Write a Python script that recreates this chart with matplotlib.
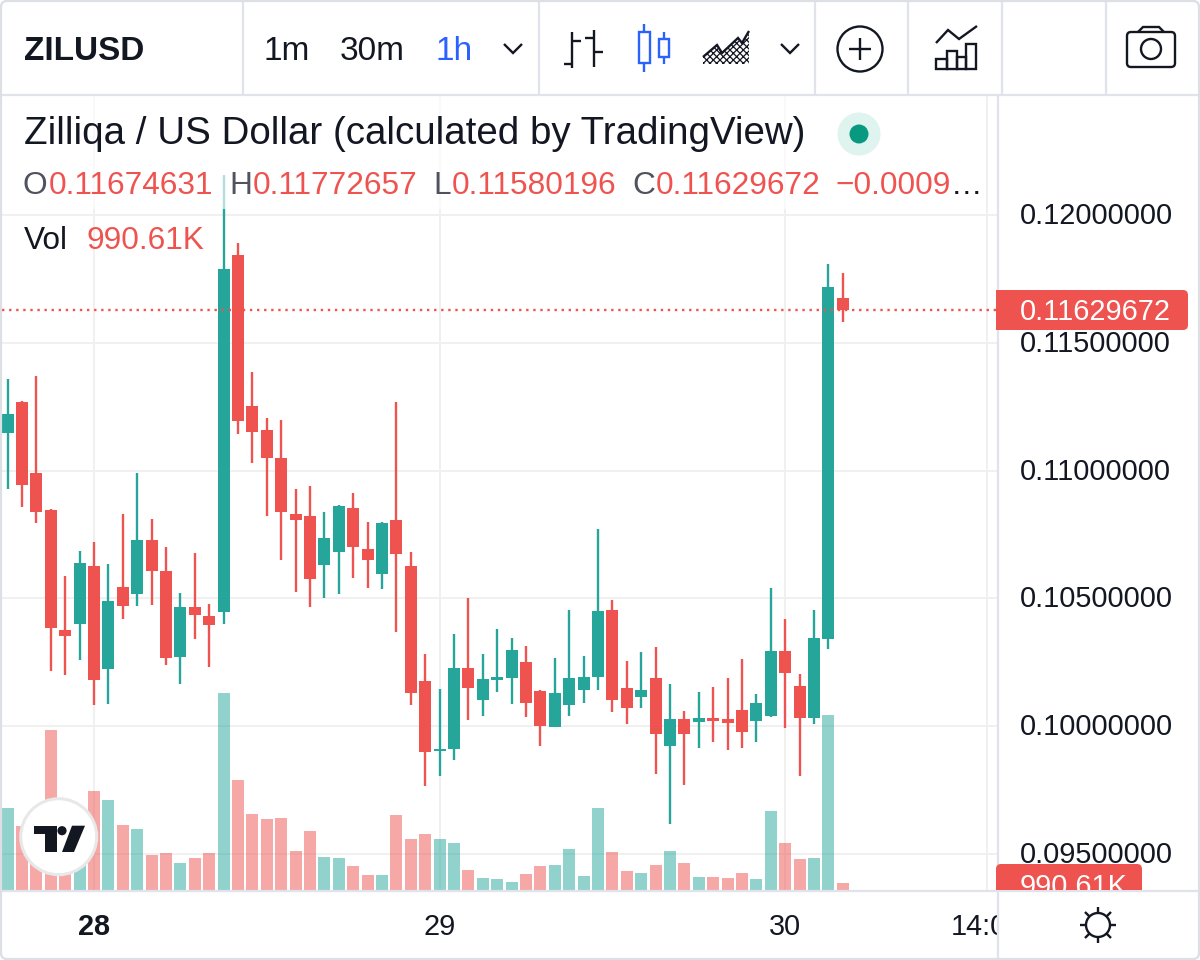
#Import packages
import matplotlib
matplotlib.use("Agg")
import matplotlib.pyplot as plt
from matplotlib.patches import Rectangle, Circle, Polygon, FancyBboxPatch
from matplotlib.transforms import Bbox, ScaledTranslation

plt.rcParams['font.family'] = ['Liberation Sans', 'DejaVu Sans']
plt.rcParams['hatch.linewidth'] = 0.9

#Hourly candles
opens = [0.11147, 0.11269, 0.10991, 0.10846, 0.10376, 0.10399, 0.10626, 0.10223, 0.10544, 0.10517,
         0.10728, 0.10607, 0.10270, 0.10466, 0.10431, 0.10446, 0.11844, 0.11253, 0.11159, 0.11049,
         0.10830, 0.10822, 0.10630, 0.10681, 0.10854, 0.10693, 0.10595, 0.10807, 0.10626, 0.10176,
         0.09902, 0.09910, 0.10227, 0.10102, 0.10180, 0.10188, 0.10251, 0.10137, 0.09996, 0.10082,
         0.10141, 0.10192, 0.10454, 0.10149, 0.10114, 0.10188, 0.09922, 0.10027, 0.10016, 0.10031,
         0.10027, 0.10063, 0.10020, 0.10039, 0.10294, 0.10157, 0.10031, 0.10341, 0.11674631]
highs = [0.11359, 0.11273, 0.11370, 0.10850, 0.10587, 0.10685, 0.10720, 0.10634, 0.10830, 0.10991,
         0.10811, 0.10701, 0.10521, 0.10677, 0.10478, 0.12157, 0.11891, 0.11386, 0.11206, 0.11198,
         0.10928, 0.10940, 0.10838, 0.10865, 0.10912, 0.10799, 0.10799, 0.11269, 0.10681, 0.10282,
         0.10145, 0.10360, 0.10501, 0.10282, 0.10380, 0.10345, 0.10313, 0.10141, 0.10266, 0.10454,
         0.10274, 0.10771, 0.10493, 0.10255, 0.10290, 0.10309, 0.10164, 0.10059, 0.10133, 0.10153,
         0.10188, 0.10262, 0.10125, 0.10540, 0.10419, 0.10204, 0.10454, 0.11809, 0.11772657]
lows = [0.10928, 0.10857, 0.10795, 0.10215, 0.10200, 0.10258, 0.10082, 0.10086, 0.10419, 0.10470,
        0.10474, 0.10239, 0.10164, 0.10341, 0.10231, 0.10399, 0.11143, 0.11030, 0.10822, 0.10650,
        0.10525, 0.10466, 0.10501, 0.10517, 0.10580, 0.10540, 0.10536, 0.10368, 0.10082, 0.09765,
        0.09804, 0.09867, 0.10024, 0.10039, 0.10133, 0.10086, 0.10035, 0.09922, 0.09996, 0.10039,
        0.10090, 0.10141, 0.10055, 0.10008, 0.10070, 0.09812, 0.09616, 0.09769, 0.09914, 0.09937,
        0.09906, 0.09914, 0.09937, 0.10035, 0.09992, 0.09804, 0.10008, 0.10302, 0.11580196]
closes = [0.11222, 0.10944, 0.10838, 0.10384, 0.10352, 0.10638, 0.10180, 0.10489, 0.10470, 0.10728,
          0.10607, 0.10266, 0.10466, 0.10435, 0.10395, 0.11789, 0.11194, 0.11151, 0.11049, 0.10838,
          0.10807, 0.10576, 0.10736, 0.10861, 0.10701, 0.10650, 0.10795, 0.10673, 0.10129, 0.09898,
          0.09910, 0.10227, 0.10149, 0.10184, 0.10192, 0.10298, 0.10090, 0.10000, 0.10129, 0.10188,
          0.10192, 0.10450, 0.10102, 0.10070, 0.10141, 0.09969, 0.10027, 0.09969, 0.10031, 0.10020,
          0.10012, 0.09977, 0.10090, 0.10294, 0.10208, 0.10031, 0.10345, 0.11719, 0.11629672]
#Volume in thousands
volumes = [12497, 9754, 7620, 24384, 6401, 7925, 15088, 13716, 9906, 9296,
           5334, 5639, 4115, 4877, 5639, 30023, 16764, 11582, 10820, 10973,
           5944, 8992, 5029, 4877, 3658, 2286, 2286, 11430, 7772, 8534,
           7772, 7163, 3048, 1829, 1676, 1219, 2438, 3658, 3810, 6248,
           2134, 12497, 5791, 2896, 2591, 3810, 5944, 4115, 1981, 1981,
           1829, 2591, 1676, 12040, 7163, 4724, 4877, 26670, 990.61]

price_ticks = [0.095, 0.10, 0.105, 0.11, 0.115, 0.12]
time_positions = [6, 30, 54, 68]
time_labels = ["28", "29", "30", "14:00"]

#Colors
green = "#26a69a"
red = "#ef5350"
dark = "#131722"
gray = "#50535e"
blue = "#2962ff"
border = "#e0e3eb"
grid_color = "#f0f0f0"

positions = list(range(len(opens)))
candle_colors = [green if c >= o else red for o, c in zip(opens, closes)]

fig = plt.figure(figsize=(12, 9.6), dpi=100)
fig.patch.set_facecolor("white")
chart_rect = [2/1200, 70/960, 995/1200, 794/960]
x_range = (-0.389, 68.71)
price_range = (0.0935786, 0.1246677)

#Grid goes underneath everything
grid_ax = fig.add_axes(chart_rect, zorder=0)
grid_ax.set_xlim(x_range)
grid_ax.set_ylim(price_range)
grid_ax.set_xticks(time_positions)
grid_ax.set_yticks(price_ticks)
grid_ax.set_xticklabels([])
grid_ax.set_yticklabels([])
grid_ax.tick_params(length=0)
grid_ax.grid(color=grid_color, linewidth=1.44)
for side in grid_ax.spines.values():
    side.set_visible(False)

#Volume has its own scale
vol_ax = fig.add_axes(chart_rect, zorder=1)
vol_ax.patch.set_alpha(0)
vol_ax.bar(positions, volumes, width=0.83, color=candle_colors, alpha=0.5, linewidth=0)
vol_ax.set_xlim(x_range)
vol_ax.set_ylim(0, 121006)
vol_ax.axis("off")

#Price axes
ax = fig.add_axes(chart_rect, zorder=2)
ax.patch.set_alpha(0)
ax.set_xlim(x_range)
ax.set_ylim(price_range)
ax.vlines(positions, lows, highs, color=candle_colors, linewidth=1.7, zorder=2)
bottoms = [min(o, c) for o, c in zip(opens, closes)]
heights = [abs(o - c) for o, c in zip(opens, closes)]
ax.bar(positions, heights, bottom=bottoms, width=0.83, color=candle_colors, linewidth=0, zorder=3)
ax.axhline(closes[-1], color=red, linewidth=1.7, linestyle=(0, (1, 2)), zorder=4)

ax.yaxis.tick_right()
ax.set_yticks(price_ticks)
ax.set_yticklabels([f"{t:.8f}" for t in price_ticks], fontsize=20.8, color=dark)
ax.set_xticks(time_positions)
ax.set_xticklabels(time_labels, fontsize=20.8, color=dark)
ax.tick_params(axis="both", length=0)
ax.tick_params(axis="y", pad=16.5)
ax.tick_params(axis="x", pad=16.6)
nudge = ScaledTranslation(0, 2/100, fig.dpi_scale_trans)
for label in ax.get_yticklabels():
    label.set_transform(label.get_transform() + nudge)
ax.get_xticklabels()[0].set_fontweight("bold")
#The last time label runs under the price scale
ax.get_xticklabels()[-1].set_clip_box(Bbox([[0, 0], [997, 960]]))
ax.get_xticklabels()[-1].set_clip_on(True)
for side in ax.spines.values():
    side.set_visible(False)

#Pixel overlay for the toolbar, legend and badges
ui = fig.add_axes([0, 0, 1, 1], zorder=5)
ui.set_xlim(0, 1200)
ui.set_ylim(960, 0)
ui.axis("off")

def line(xs, ys, color=dark, lw=1.7):
    ui.plot(xs, ys, color=color, linewidth=lw, solid_capstyle="butt", solid_joinstyle="miter")

#Legend rows fade out what runs behind them
ui.add_patch(Rectangle((3, 96), 982, 113, facecolor="white", alpha=0.65, linewidth=0))

#Frame and separators
ui.add_patch(FancyBboxPatch((1, 1), 1198, 958, boxstyle="round,pad=0,rounding_size=6",
                            facecolor="none", edgecolor="#dcdfe4", linewidth=1.6))
line([2, 1198], [95, 95], border, 1.6)
for x in [243, 539, 815, 908, 1002, 1106]:
    line([x, x], [2, 94], border, 1.6)
line([998, 998], [96, 958], border, 1.6)
line([2, 1198], [891, 891], border, 1.6)

#Toolbar labels
ui.text(24, 60, "ZILUSD", fontsize=24, fontweight="bold", color=dark)
ui.text(264, 60, "1m", fontsize=24, color=dark)
ui.text(340, 60, "30m", fontsize=24, color=dark)
ui.text(435, 60, "1h", fontsize=24, color=blue)
line([504, 513, 522], [44, 53, 44])
line([781, 790, 799], [44, 53, 44])

#Bar style icon
line([572, 572], [32, 68])
line([564, 572], [64, 64])
line([572, 581], [41, 41])
line([594, 594], [30, 67])
line([585, 594], [38, 38])
line([594, 603], [52, 52])

#Candle style icon
line([644, 644], [24, 72], blue)
ui.add_patch(Rectangle((639, 32), 11, 31, facecolor="white", edgecolor=blue, linewidth=1.7, zorder=3))
line([664, 664], [32, 64], blue)
ui.add_patch(Rectangle((659, 39), 10, 18, facecolor="white", edgecolor=blue, linewidth=1.7, zorder=3))

#Area style icon
area_x = [703, 717, 722, 738, 742, 749]
area_y = [57, 45, 53, 38, 43, 31]
ui.add_patch(Polygon(list(zip(area_x, area_y)) + [(749, 64), (703, 64)], facecolor="white",
                     edgecolor=dark, hatch="xxxxx", linewidth=0))
line(area_x, area_y, dark, 1.7)

#Add indicator icon
ui.add_patch(Circle((860, 49), 22.5, facecolor="none", edgecolor=dark, linewidth=1.7))
line([849, 871], [49, 49])
line([860, 860], [38, 60])

#Indicators icon
line([936, 948, 959, 977], [43, 30, 39, 26])
ui.add_patch(Rectangle((936, 59), 11, 10, facecolor="none", edgecolor=dark, linewidth=1.7))
ui.add_patch(Rectangle((947, 51), 10, 18, facecolor="none", edgecolor=dark, linewidth=1.7))
ui.add_patch(Rectangle((957, 57), 9, 12, facecolor="none", edgecolor=dark, linewidth=1.7))
ui.add_patch(Rectangle((966, 44), 10, 25, facecolor="none", edgecolor=dark, linewidth=1.7))

#Camera icon
ui.add_patch(FancyBboxPatch((1127, 32), 48, 35, boxstyle="round,pad=0,rounding_size=4",
                            facecolor="none", edgecolor=dark, linewidth=1.7))
line([1138, 1143, 1159, 1164], [32, 27, 27, 32])
ui.add_patch(Circle((1151, 49), 10, facecolor="none", edgecolor=dark, linewidth=1.7))

#Legend text
ui.text(24, 143.5, "Zilliqa / US Dollar (calculated by TradingView)", fontsize=27.7, color=dark)
ui.add_patch(Circle((859, 134), 21.5, facecolor="#dff3ef", linewidth=0))
ui.add_patch(Circle((859, 134), 9.5, facecolor="#089981", linewidth=0))
row = [(22, "O", opens[-1], 49), (229, "H", highs[-1], 253), (433, "L", lows[-1], 452), (632, "C", closes[-1], 656)]
for label_x, name, value, value_x in row:
    ui.text(label_x, 194, name, fontsize=22.8, color=gray)
    ui.text(value_x, 194, f"{value:.8f}", fontsize=22.8, color=red)
ui.text(835, 194, "\u22120.0009", fontsize=22.8, color=red)
ui.text(951, 194, "\u2026", fontsize=22.8, color=dark)
ui.text(24, 249, "Vol", fontsize=22.8, color=dark)
ui.text(87, 249, f"{volumes[-1]:.2f}K", fontsize=22.8, color=red)

#Last price badge
ui.add_patch(FancyBboxPatch((996, 290), 192, 40, boxstyle="round,pad=0,rounding_size=5",
                            facecolor=red, linewidth=0, zorder=3))
ui.add_patch(Rectangle((996, 290), 10, 40, facecolor=red, linewidth=0, zorder=3))
ui.text(1020, 312, f"{closes[-1]:.8f}", fontsize=20.8, color="white", va="center", zorder=4)

#Last volume badge, cut off by the time axis
clip_vol = Rectangle((990, 855), 200, 35, transform=ui.transData)
vol_badge = FancyBboxPatch((996, 864), 146, 40, boxstyle="round,pad=0,rounding_size=5",
                           facecolor=red, linewidth=0, zorder=3)
ui.add_patch(vol_badge)
vol_badge.set_clip_path(clip_vol)
vol_text = ui.text(1020, 895, f"{volumes[-1]:.2f}K", fontsize=20.8, color="white", zorder=4)
vol_text.set_clip_path(clip_vol)
vol_text.set_clip_on(True)

#Logo
ui.add_patch(Circle((58.7, 836.7), 38, facecolor="white", edgecolor="#e8e8e8", linewidth=2.2))
ui.add_patch(Polygon([(33.5, 825.7), (56.5, 825.7), (56.5, 852), (44.5, 852), (44.5, 834), (33.5, 834)],
                     facecolor=dark, linewidth=0))
ui.add_patch(Circle((62, 830.7), 4.6, facecolor=dark, linewidth=0))
ui.add_patch(Polygon([(72, 825.7), (85, 825.7), (74, 852), (62, 852)], facecolor=dark, linewidth=0))

#Theme icon
ui.add_patch(Circle((1098, 925), 12, facecolor="none", edgecolor=dark, linewidth=1.7))
for x0, y0, x1, y1 in [(1098, 907, 1098, 913), (1098, 937, 1098, 943), (1080, 925, 1086, 925), (1110, 925, 1116, 925),
                       (1085, 912, 1090, 917), (1111, 912, 1106, 917), (1085, 938, 1090, 933), (1111, 938, 1106, 933)]:
    line([x0, x1], [y0, y1])

fig.savefig("out.png", dpi=100)
